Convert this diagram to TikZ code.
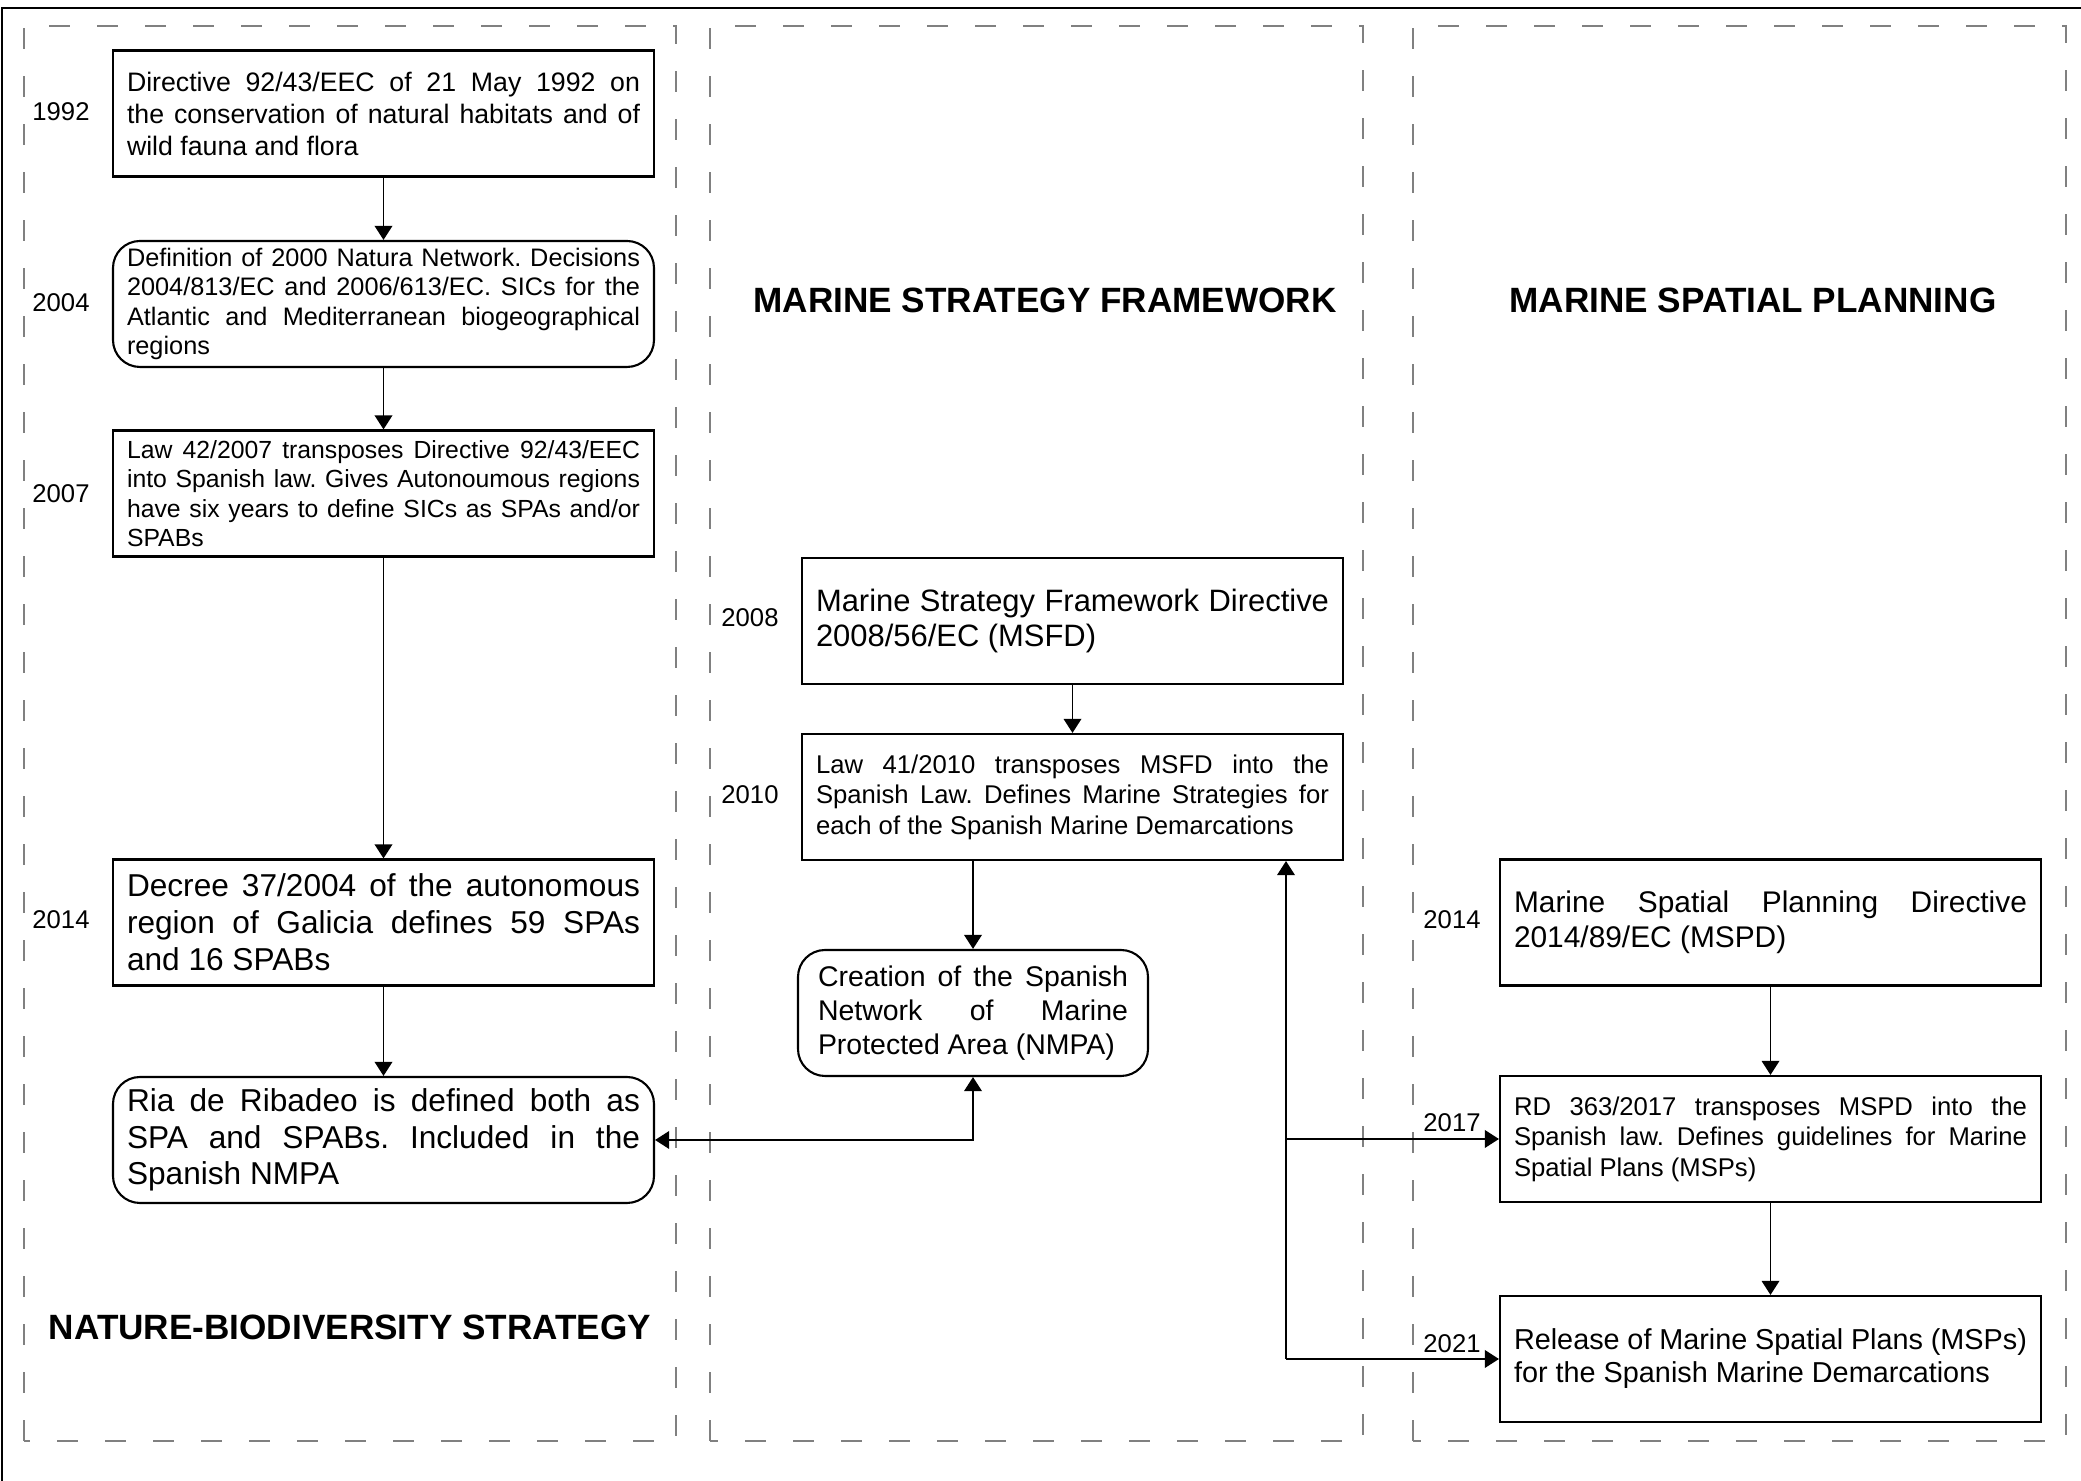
\documentclass[tikz,border=0pt]{standalone}
\usepackage{fontspec}
\setmainfont{Liberation Sans}
\usetikzlibrary{arrows.meta,positioning}
\hyphenpenalty=10000
\tolerance=9999
\frenchspacing

\begin{document}
\begin{tikzpicture}[
    box/.style={rectangle, draw, line width=0.6pt, text width=5.13cm, inner xsep=0.14cm, inner ysep=0pt, minimum height=1.26cm, align=justify},
    rbox/.style={box, rounded corners=0.27cm},
    yearlbl/.style={inner sep=0pt, font=\fontsize{7.3}{8.5}\selectfont},
    head/.style={inner sep=0pt, font=\fontsize{10}{12}\selectfont\bfseries},
    colframe/.style={draw=black!50, line width=0.5pt, dash pattern=on 0.21cm off 0.27cm},
    arr/.style={-{Triangle[width=5pt,length=4pt]}, line width=0.5pt},
    arrboth/.style={{Triangle[width=5pt,length=4pt]}-{Triangle[width=5pt,length=4pt]}, line width=0.5pt}
]
    \useasboundingbox (0,0) rectangle (20.81,14.81);

    % Outer frame
    \draw[line width=0.8pt] (0.02,0) -- (0.02,14.73) -- (20.81,14.73);

    % Dashed columns
    \draw[colframe] (0.24,0.40) rectangle (6.76,14.55);
    \draw[colframe] (7.10,0.40) rectangle (13.63,14.55);
    \draw[colframe] (14.13,0.40) rectangle (20.66,14.55);

    % Headers
    \node[head] (hnat) at (3.50,1.54) {NATURE-BIODIVERSITY STRATEGY};
    \node[head] (hmsf) at (10.45,11.81) {MARINE STRATEGY FRAMEWORK};
    \node[head] (hmsp) at (17.53,11.81) {MARINE SPATIAL PLANNING};

    % Nature-biodiversity column
    \node[box, font=\fontsize{7.6}{9.1}\selectfont] (hab92) at (3.835,13.675) {Directive 92/43/EEC of 21 May 1992 on\linebreak the conservation of natural habitats and of\linebreak wild fauna and flora};
    \node[rbox, font=\fontsize{7.2}{8.3}\selectfont] (natura) at (3.835,11.77) {Definition of 2000 Natura Network. Decisions\linebreak 2004/813/EC and 2006/613/EC. SICs for the\linebreak Atlantic and Mediterranean biogeographical\linebreak regions};
    \node[box, font=\fontsize{7.05}{8.4}\selectfont] (law07) at (3.835,9.875) {Law 42/2007 transposes Directive 92/43/EEC\linebreak into Spanish law. Gives Autonoumous regions\linebreak have six years to define SICs as SPAs and/or\linebreak SPABs};
    \node[box, font=\fontsize{9}{10.5}\selectfont] (decree) at (3.835,5.585) {Decree 37/2004 of the autonomous\linebreak region of Galicia defines 59 SPAs\linebreak and 16 SPABs};
    \node[rbox, font=\fontsize{9}{10.4}\selectfont] (ribadeo) at (3.835,3.41) {Ria de Ribadeo is defined both as\linebreak SPA and SPABs. Included in the\linebreak Spanish NMPA};

    \node[yearlbl] (y92) at (0.61,13.695) {1992};
    \node[yearlbl] (y04) at (0.61,11.78) {2004};
    \node[yearlbl] (y07) at (0.61,9.87) {2007};
    \node[yearlbl] (y14a) at (0.61,5.61) {2014};

    % Marine strategy framework column
    \node[box, font=\fontsize{8.8}{10.2}\selectfont] (msfd) at (10.725,8.60) {Marine Strategy Framework Directive\linebreak 2008/56/EC (MSFD)};
    \node[box, font=\fontsize{7.3}{8.7}\selectfont] (law10) at (10.725,6.84) {Law 41/2010 transposes MSFD into the\linebreak Spanish Law. Defines Marine Strategies for\linebreak each of the Spanish Marine Demarcations};
    \node[rbox, text width=3.1cm, inner xsep=0.2cm, font=\fontsize{8.1}{9.6}\selectfont] (nmpa) at (9.73,4.68) {Creation of the Spanish\linebreak Network of Marine\linebreak Protected Area (NMPA)};

    \node[yearlbl] (y08) at (7.50,8.63) {2008};
    \node[yearlbl] (y10) at (7.50,6.86) {2010};

    % Marine spatial planning column
    \node[box, font=\fontsize{8.5}{9.8}\selectfont] (mspd) at (17.705,5.585) {Marine Spatial Planning Directive\linebreak 2014/89/EC (MSPD)};
    \node[box, font=\fontsize{7.3}{8.7}\selectfont] (rd17) at (17.705,3.42) {RD 363/2017 transposes MSPD into the\linebreak Spanish law. Defines guidelines for Marine\linebreak Spatial Plans (MSPs)};
    \node[box, font=\fontsize{8.2}{9.4}\selectfont] (msp21) at (17.705,1.22) {Release of Marine Spatial Plans (MSPs)\linebreak for the Spanish Marine Demarcations};

    \node[yearlbl] (y14b) at (14.52,5.61) {2014};
    \node[yearlbl] (y17) at (14.52,3.58) {2017};
    \node[yearlbl] (y21) at (14.52,1.37) {2021};

    % Connections
    \draw[arr] (hab92) -- (natura);
    \draw[arr] (natura) -- (law07);
    \draw[arr] (law07) -- (decree);
    \draw[arr] (decree) -- (ribadeo);
    \draw[arr] (msfd) -- (law10);
    \draw[arr] (law10.south -| nmpa.north) -- (nmpa.north);
    \draw[arrboth] (ribadeo.east) -| (nmpa.south);
    \draw[arr] (mspd) -- (rd17);
    \draw[arr] (rd17) -- (msp21);

    \coordinate (fork) at (12.86,0 |- msp21.west);
    \draw[arr] (fork) -- (fork |- law10.south);
    \draw[arr] (fork) -- (msp21.west);
    \draw[arr] (fork |- rd17.west) -- (rd17.west);
\end{tikzpicture}
\end{document}
